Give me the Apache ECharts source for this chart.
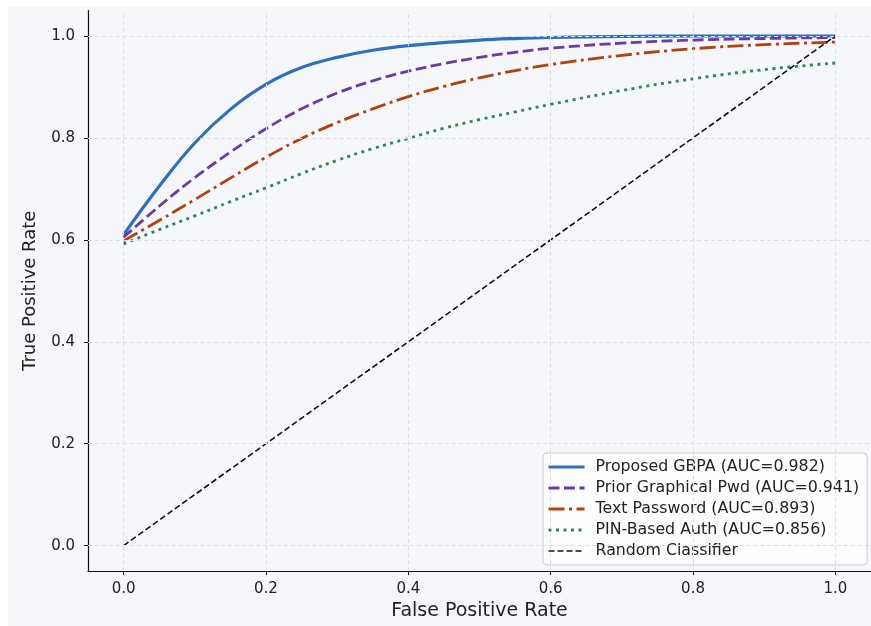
<!doctype html>
<html>
<head>
<meta charset="utf-8">
<title>ROC</title>
<script src="https://cdn.jsdelivr.net/npm/echarts@6/dist/echarts.min.js"></script>
<style>
  body { margin: 0; background: #ffffff; }
  #bg { position: absolute; left: 8px; top: 7px; width: 863px; height: 619px; background: #f5f7fb; }
  #main { position: absolute; left: 0; top: 0; width: 871px; height: 626px; }
</style>
</head>
<body>
<div id="bg"></div>
<div id="main"></div>
<script type="text/javascript">
// false positive rate sample points
var fpr = [0, 0.05, 0.1, 0.15, 0.2, 0.25, 0.3, 0.35, 0.4, 0.45, 0.5, 0.55, 0.6, 0.7, 0.8, 0.9, 1.0];
var gbpa = [0.610, 0.705, 0.790, 0.856, 0.905, 0.938, 0.958, 0.972, 0.981, 0.987, 0.992, 0.995, 0.997, 0.999, 1.0, 1.0, 1.0];
var priorGraphical = [0.605, 0.666, 0.722, 0.772, 0.818, 0.857, 0.888, 0.912, 0.931, 0.946, 0.958, 0.968, 0.976, 0.986, 0.992, 0.995, 0.997];
var textPwd = [0.598, 0.638, 0.679, 0.721, 0.762, 0.799, 0.830, 0.857, 0.881, 0.901, 0.918, 0.932, 0.944, 0.962, 0.975, 0.983, 0.988];
var pinAuth = [0.592, 0.620, 0.647, 0.675, 0.702, 0.730, 0.756, 0.779, 0.799, 0.819, 0.836, 0.851, 0.866, 0.893, 0.916, 0.934, 0.947];
var randomX = [0, 1];
var randomY = [0, 1];
var names = ['Proposed GBPA (AUC=0.982)', 'Prior Graphical Pwd (AUC=0.941)', 'Text Password (AUC=0.893)', 'PIN-Based Auth (AUC=0.856)', 'Random Classifier'];
var xTicks = [0, 0.2, 0.4, 0.6, 0.8, 1.0];
var yTicks = [0, 0.2, 0.4, 0.6, 0.8, 1.0];

function pairs(xs, ys) {
  return xs.map(function (x, i) { return [x, ys[i]]; });
}

var font = 'DejaVu Sans';
var myChart = echarts.init(document.getElementById('main'));

var gridLines = [];
xTicks.forEach(function (v) { gridLines.push({ xAxis: v }); });
yTicks.forEach(function (v) { gridLines.push({ yAxis: v }); });

// legend entries, thicker line for the coloured curves
var legendData = names.map(function (n, i) {
  return { name: n, lineStyle: { width: i < 4 ? 3 : 1.6 } };
});

var option = {
  animation: false,
  backgroundColor: 'transparent',
  textStyle: { fontFamily: font },
  grid: { left: 88, top: 10.5, width: 785, height: 561 },
  legend: {
    data: legendData,
    orient: 'vertical',
    left: 543,
    top: 453,
    itemWidth: 36,
    itemHeight: 12,
    itemGap: 5,
    padding: [6, 8, 6, 4],
    backgroundColor: 'rgba(255,255,255,0.85)',
    borderColor: '#cccccc',
    borderWidth: 1,
    borderRadius: 4,
    // hide the marker drawn on the legend line
    itemStyle: { opacity: 0, color: 'transparent', borderWidth: 0 },
    textStyle: { fontFamily: font, fontSize: 15.8, color: '#222', lineHeight: 16, padding: [0, 0, 0, 6] }
  },
  xAxis: {
    type: 'value', min: -0.05, max: 1.05,
    name: 'False Positive Rate', nameLocation: 'middle', nameGap: 30,
    nameTextStyle: { fontFamily: font, fontSize: 19, color: '#222' },
    axisLine: { onZero: false, lineStyle: { color: '#111', width: 1.2 } },
    axisTick: { customValues: xTicks, length: 4, lineStyle: { color: '#111' } },
    axisLabel: { customValues: xTicks, margin: 11, fontSize: 15, color: '#222', fontFamily: font,
      formatter: function (v) { return v.toFixed(1); } },
    splitLine: { show: false }
  },
  yAxis: {
    type: 'value', min: -0.05, max: 1.05,
    name: 'True Positive Rate', nameLocation: 'middle', nameGap: 49,
    nameTextStyle: { fontFamily: font, fontSize: 18, color: '#222' },
    axisLine: { show: true, onZero: false, lineStyle: { color: '#111', width: 1.2 } },
    axisTick: { show: true, customValues: yTicks, length: 4, lineStyle: { color: '#111' } },
    axisLabel: { customValues: yTicks, margin: 13, fontSize: 15, color: '#222', fontFamily: font,
      formatter: function (v) { return v.toFixed(1); } },
    splitLine: { show: false }
  },
  series: [
    {
      name: 'grid', type: 'line', data: [], silent: true, z: 0,
      markLine: {
        silent: true, symbol: ['none', 'none'], label: { show: false },
        lineStyle: { color: '#dcdde2', type: [4, 3], width: 1 },
        data: gridLines
      }
    },
    {
      name: names[0], type: 'line', data: pairs(fpr, gbpa), smooth: 0.4, symbol: 'none',
      lineStyle: { color: '#2f6fbf', width: 3.2 }, itemStyle: { color: '#2f6fbf' }
    },
    {
      name: names[1], type: 'line', data: pairs(fpr, priorGraphical), smooth: 0.4, symbol: 'none',
      lineStyle: { color: '#6a3aa8', width: 2.8, type: [11, 4.5] }, itemStyle: { color: '#6a3aa8' }
    },
    {
      name: names[2], type: 'line', data: pairs(fpr, textPwd), smooth: 0.4, symbol: 'none',
      lineStyle: { color: '#b5400c', width: 2.8, type: [16, 4.5, 3, 4.5] }, itemStyle: { color: '#b5400c' }
    },
    {
      name: names[3], type: 'line', data: pairs(fpr, pinAuth), smooth: 0.4, symbol: 'none',
      lineStyle: { color: '#2a8a52', width: 2.8, type: [3, 4.5] }, itemStyle: { color: '#2a8a52' }
    },
    {
      name: names[4], type: 'line', data: pairs(randomX, randomY), symbol: 'none',
      lineStyle: { color: '#111111', width: 1.6, type: [6, 3] }, itemStyle: { color: '#111111' }
    }
  ]
};

myChart.setOption(option);
</script>
</body>
</html>
